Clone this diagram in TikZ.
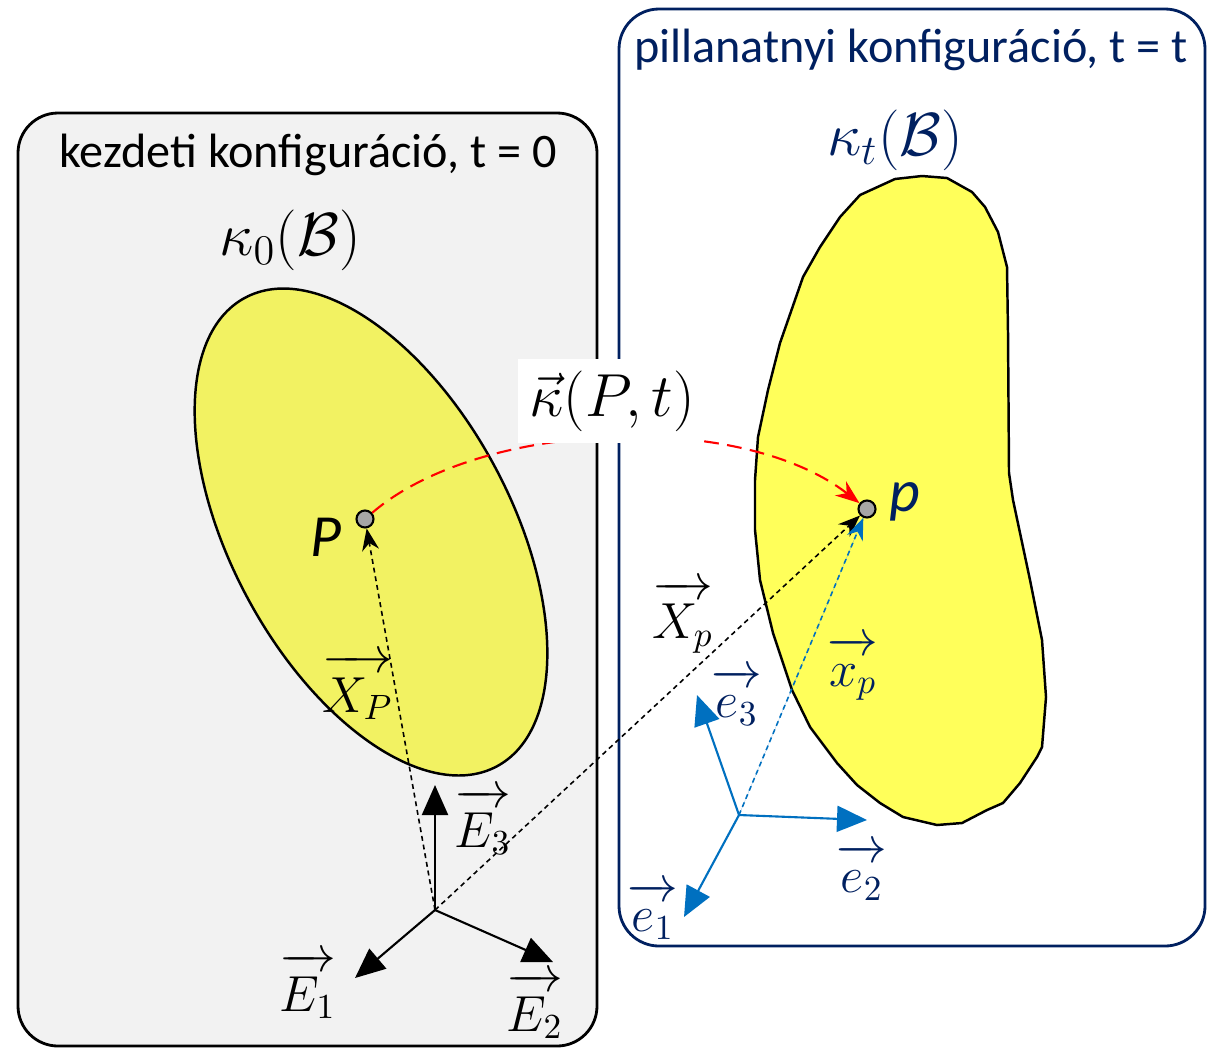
\documentclass[tikz,border=0pt]{standalone}
\usepackage{amsmath}
\usepackage{fontspec}
\setmainfont{Carlito}
\usetikzlibrary{arrows.meta}
\definecolor{navy}{HTML}{002060}
\definecolor{axisblue}{HTML}{0070C0}
\definecolor{boxgray}{HTML}{F2F2F2}
\definecolor{refyellow}{HTML}{F2F262}
\definecolor{curyellow}{HTML}{FFFF5A}
\definecolor{ptgray}{HTML}{A6A6A6}
\newcommand{\posvec}[2][0.8em]{\overrightarrow{\rule{0pt}{#1}#2}}

\begin{document}
\begin{tikzpicture}[x=0.01cm, y=-0.01cm,
	frame/.style={rounded corners=0.4cm, line width=0.8pt},
	body/.style={draw, line width=0.7pt},
	axis/.style={line width=0.6pt, -{Triangle[length=3mm, width=2.6mm]}},
	ray/.style={dash pattern=on 1.4pt off 1.1pt, line width=0.45pt, -{Stealth[length=2.2mm, width=1.7mm]}},
	pt/.style={circle, draw, line width=0.6pt, fill=ptgray, inner sep=0pt, minimum size=1.7mm},
	title/.style={font=\fontsize{13.7}{16}\selectfont},
	conf/.style={font=\fontsize{17}{20}\selectfont},
	vlabel/.style={font=\fontsize{14}{17}\selectfont, inner sep=1pt},
	ptlabel/.style={font=\fontsize{17}{20}\selectfont\itshape}]
	\useasboundingbox (0,0) rectangle (1207,1048);
	% Frames and bodies:
	\draw[frame, fill=boxgray] (18,113) rectangle (597,1046);
	\draw[frame, draw=navy, fill=white] (619,9) rectangle (1205,946);
	\draw[body, fill=refyellow, rotate around={-61.7:(371,532)}] (371,532) ellipse [x radius=266, y radius=140];
	\draw[body, fill=curyellow] (922,176) -- (947,178) -- (972,192) -- (985,207) -- (998,232) -- (1007,267) -- (1008,333)
		-- (1009,473) -- (1013,500) -- (1030,580) -- (1042,640) -- (1046,697) -- (1042,747) -- (1037,757) -- (1020,783)
		-- (1003,803) -- (987,810) -- (962,823) -- (937,825) -- (903,817) -- (880,803) -- (857,785) -- (837,763)
		-- (810,727) -- (792,690) -- (773,633) -- (760,580) -- (755,530) -- (755,480) -- (758,437) -- (768,390)
		-- (780,343) -- (803,277) -- (820,247) -- (840,217) -- (860,195) -- (895,179) -- cycle;
	\node[title] (t0) at (308,155) {kezdeti konfiguráció, t = 0};
	\node[title, text=navy] (tt) at (911,50) {pillanatnyi konfiguráció, t = t};
	\node[conf] (k0) at (290,240) {$\kappa_0(\mathcal{B})$};
	\node[conf, text=navy] (kt) at (895,140) {$\kappa_t(\mathcal{B})$};
	% Bases:
	\coordinate (OE) at (435,910);
	\coordinate (Oe) at (739,815);
	\coordinate (E1) at (355,978);
	\coordinate (E2) at (553,962);
	\coordinate (E3) at (435,785);
	\coordinate (e1) at (684,917);
	\coordinate (e2) at (867,820);
	\coordinate (e3) at (697,695);
	\draw[axis] (OE) -- (E1);
	\draw[axis] (OE) -- (E2);
	\draw[axis] (OE) -- (E3);
	\draw[axis, draw=axisblue, fill=axisblue] (Oe) -- (e1);
	\draw[axis, draw=axisblue, fill=axisblue] (Oe) -- (e2);
	\draw[axis, draw=axisblue, fill=axisblue] (Oe) -- (e3);
	% Points and position vectors:
	\node[pt] (P) at (365,519) {};
	\node[pt] (p) at (867,509) {};
	\draw[ray] (OE) -- (P);
	\draw[ray] (OE) -- (p);
	\draw[ray, draw=axisblue, fill=axisblue] (Oe) -- (p);
	\node[ptlabel] (Plabel) at (326,537) {P};
	\node[ptlabel, text=navy] (plabel) at (905,502) {p};
	% Labels:
	\node[vlabel] (lE1) at (308,986) {$\posvec{E_1}$};
	\node[vlabel] (lE2) at (535,1006) {$\posvec{E_2}$};
	\node[vlabel] (lE3) at (483,822) {$\posvec{E_3}$};
	\node[vlabel] (lXP) at (358,687) {$\posvec{X_P}$};
	\node[vlabel] (lXp) at (683,617) {$\posvec{X_p}$};
	\node[vlabel, text=navy] (lxp) at (853,669) {$\posvec[0.62em]{x_p}$};
	\node[vlabel, text=navy] (le1) at (653,911) {$\posvec[0.62em]{e_1}$};
	\node[vlabel, text=navy] (le2) at (862,872) {$\posvec[0.62em]{e_2}$};
	\node[vlabel, text=navy] (le3) at (737,697) {$\posvec[0.62em]{e_3}$};
	% Mapping:
	\draw[red, dash pattern=on 4.2pt off 2.4pt, line width=0.6pt, -{Stealth[length=2.4mm, width=1.8mm]}]
		(P) .. controls (480,420) and (740,410) .. (p);
	\node[fill=white, minimum width=1.82cm, minimum height=0.68cm, inner xsep=0.05cm, text width=1.72cm, align=right,
		font=\fontsize{16}{19}\selectfont] (kappa) at (609,401) {$\vec{\kappa}(P,t)$};
\end{tikzpicture}
\end{document}
